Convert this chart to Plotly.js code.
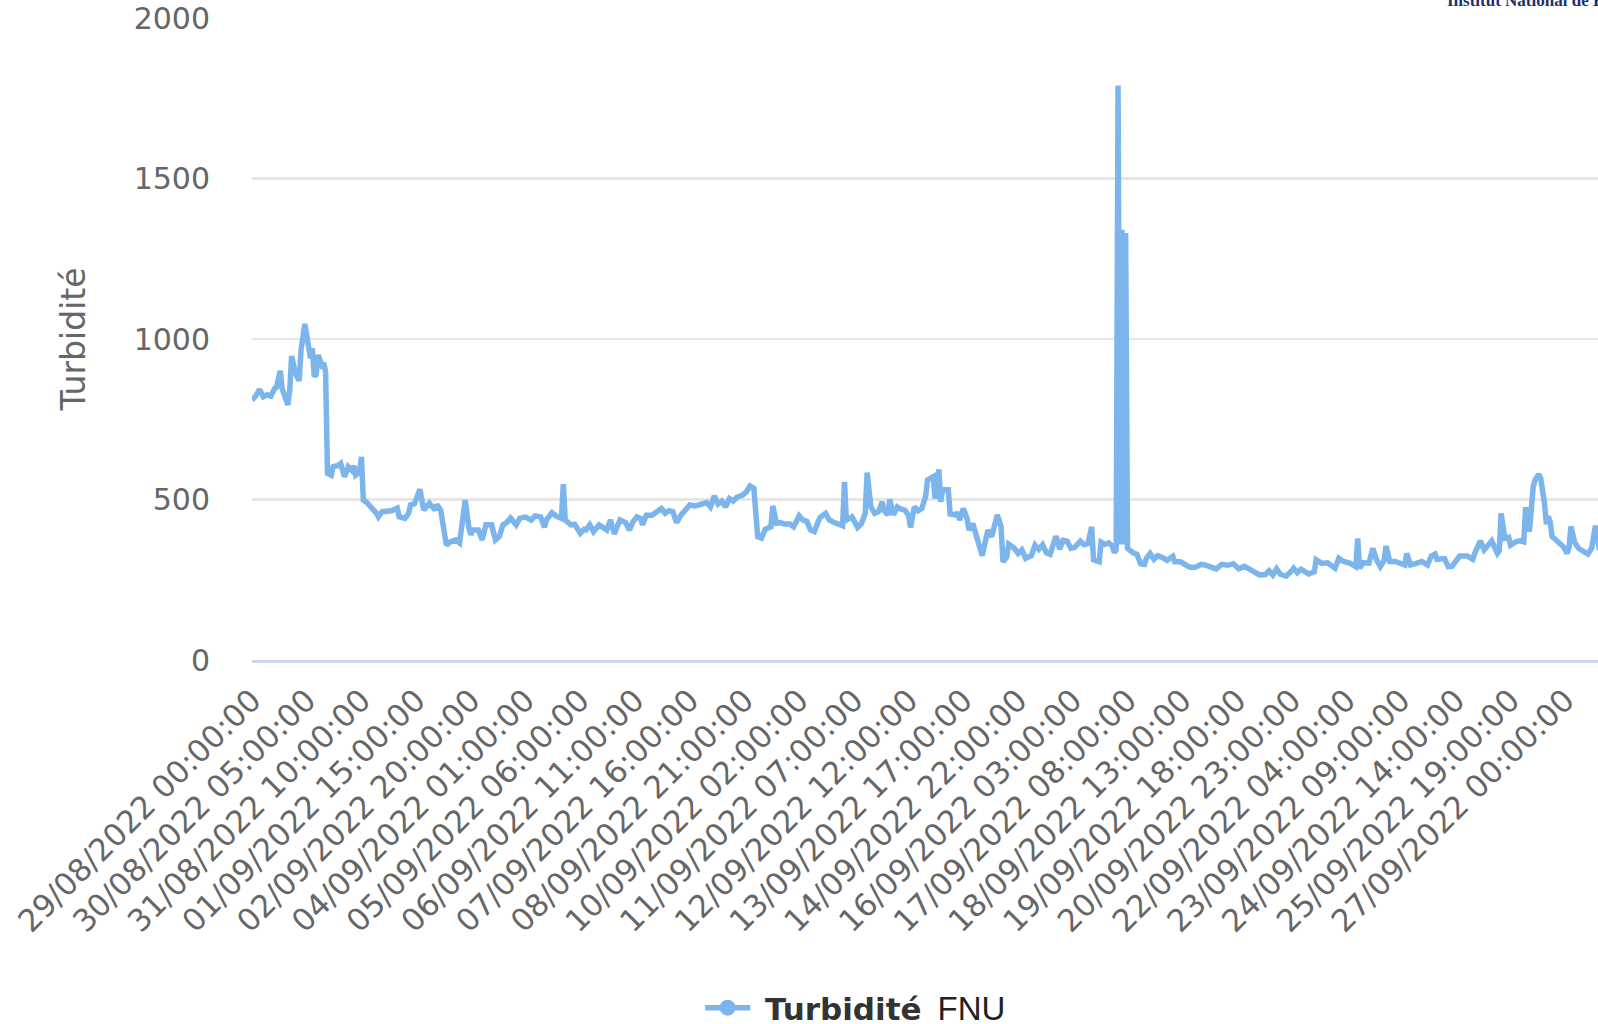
<!DOCTYPE html>
<html>
<head>
<meta charset="utf-8">
<script src="https://cdn.plot.ly/plotly-3.0.1.min.js"></script>
<style>
  html, body { margin: 0; padding: 0; background: #ffffff; overflow: hidden; width: 1598px; height: 1024px; }
  #chart { width: 1700px; height: 1060px; }
</style>
</head>
<body>
<div id="chart"></div>
<script>
// Hours elapsed since 29/08/2022 00:00:00
const hours = [
  0, 2, 4, 6, 8, 10, 12, 13, 15, 16, 19, 20, 21, 23, 25, 26, 28, 30, 31, 32,
  33, 34, 35, 37, 38, 39, 40, 42, 43, 46, 47, 49, 51, 53, 54, 55, 57, 58, 59, 61,
  63, 64, 66, 67, 69, 71, 74, 77, 78, 81, 83, 84, 86, 87, 89, 91, 94, 97, 98, 100,
  103, 105, 108, 110, 111, 113, 115, 116, 117, 120, 122, 124, 127, 129, 131, 133, 135, 137, 140, 142,
  145, 148, 150, 153, 155, 156, 159, 161, 164, 165, 166, 169, 171, 174, 176, 177, 179, 181, 184, 186,
  188, 190, 192, 195, 198, 200, 202, 204, 206, 207, 209, 212, 214, 217, 219, 221, 223, 225, 227, 230,
  232, 235, 237, 239, 241, 243, 245, 247, 249, 251, 253, 255, 257, 260, 262, 264, 266, 268, 270, 272,
  275, 276, 278, 280, 282, 285, 287, 290, 292, 294, 296, 298, 301, 304, 306, 308, 311, 313, 314, 315,
  318, 320, 321, 323, 325, 326, 328, 330, 332, 334, 335, 337, 338, 340, 342, 344, 346, 348, 349, 351,
  353, 355, 357, 358, 360, 361, 362, 364, 365, 366, 369, 370, 373, 374, 375, 377, 379, 380, 382, 384,
  386, 387, 390, 392, 395, 397, 398, 400, 401, 404, 406, 408, 410, 413, 415, 417, 419, 421, 423, 426,
  427, 428, 430, 432, 434, 436, 439, 441, 443, 445, 446, 449, 450, 452, 454, 456, 457, 458, 459, 460,
  461, 462, 463, 464, 467, 469, 471, 473, 474, 476, 478, 480, 483, 485, 488, 489, 492, 495, 497, 500,
  503, 505, 508, 511, 514, 517, 520, 523, 526, 529, 532, 534, 537, 539, 541, 543, 545, 548, 551, 552,
  554, 556, 560, 563, 564, 567, 570, 574, 576, 578, 582, 585, 586, 587, 589, 592, 594, 596, 598, 600,
  601, 603, 606, 609, 611, 612, 614, 617, 620, 623, 625, 627, 628, 632, 634, 636, 638, 640, 644, 647,
  648, 651, 653, 654, 657, 660, 661, 662, 664, 666, 667, 670, 672, 674, 675, 676, 677, 679, 680, 682,
  683, 685, 686, 687, 688, 689, 692, 695, 697, 698, 699, 701, 703, 706, 708, 710, 712, 714, 716
];

// Turbidity readings (FNU)
const turbidity = [
  810, 822, 843, 820, 826, 822, 846, 850, 901, 845, 795, 840, 947, 893, 870, 966, 1047, 976, 940, 971,
  883, 890, 950, 919, 925, 898, 582, 576, 602, 607, 612, 571, 602, 590, 605, 576, 585, 633, 498, 490,
  473, 470, 457, 446, 462, 462, 465, 473, 446, 441, 457, 483, 486, 500, 532, 467, 488, 467, 484, 467,
  358, 368, 374, 365, 410, 498, 410, 390, 405, 405, 374, 421, 421, 374, 384, 421, 428, 442, 421, 442,
  445, 436, 449, 446, 413, 436, 459, 449, 441, 548, 436, 421, 423, 395, 407, 405, 421, 400, 421, 415,
  405, 436, 393, 436, 428, 405, 431, 446, 441, 421, 451, 451, 459, 472, 457, 465, 462, 428, 449, 472,
  483, 480, 483, 486, 490, 477, 511, 486, 495, 477, 503, 495, 507, 514, 524, 542, 535, 384, 380, 407,
  415, 480, 426, 428, 424, 424, 415, 449, 436, 432, 405, 400, 444, 457, 436, 430, 421, 418, 555, 436,
  446, 425, 413, 425, 457, 584, 477, 457, 462, 493, 465, 452, 500, 452, 477, 470, 467, 450, 413, 477,
  465, 472, 509, 561, 571, 571, 503, 594, 493, 530, 530, 455, 452, 460, 436, 472, 440, 405, 425, 389,
  353, 325, 405, 384, 452, 415, 306, 322, 361, 348, 332, 343, 317, 325, 358, 345, 359, 334, 329, 385,
  373, 345, 373, 370, 348, 351, 370, 359, 362, 415, 312, 306, 367, 360, 365, 355, 334, 345, 1790, 360,
  1340, 360, 1330, 348, 334, 329, 300, 298, 317, 332, 314, 325, 318, 310, 323, 306, 306, 298, 289, 289,
  298, 296, 292, 284, 298, 295, 300, 284, 292, 281, 269, 265, 266, 278, 265, 284, 267, 261, 278, 286,
  272, 283, 268, 275, 312, 301, 303, 286, 317, 308, 301, 291, 379, 286, 303, 302, 348, 312, 291, 310,
  355, 307, 307, 301, 296, 332, 296, 301, 307, 296, 324, 330, 314, 316, 291, 292, 312, 324, 324, 314,
  332, 371, 343, 350, 371, 332, 340, 457, 379, 382, 358, 369, 371, 368, 476, 426, 400, 540, 561, 579,
  566, 488, 423, 447, 430, 385, 366, 353, 332, 350, 416, 366, 348, 334, 330, 348, 418, 348, 345
];

// Category labels shown along the time axis, one every 29 hours
const tickLabels = [
  '29/08/2022 00:00:00', '30/08/2022 05:00:00', '31/08/2022 10:00:00', '01/09/2022 15:00:00',
  '02/09/2022 20:00:00', '04/09/2022 01:00:00', '05/09/2022 06:00:00', '06/09/2022 11:00:00',
  '07/09/2022 16:00:00', '08/09/2022 21:00:00', '10/09/2022 02:00:00', '11/09/2022 07:00:00',
  '12/09/2022 12:00:00', '13/09/2022 17:00:00', '14/09/2022 22:00:00', '16/09/2022 03:00:00',
  '17/09/2022 08:00:00', '18/09/2022 13:00:00', '19/09/2022 18:00:00', '20/09/2022 23:00:00',
  '22/09/2022 04:00:00', '23/09/2022 09:00:00', '24/09/2022 14:00:00', '25/09/2022 19:00:00',
  '27/09/2022 00:00:00'
];
const tickStep = 29;
const tickHours = tickLabels.map((_, i) => i * tickStep);

const yTicks = [0, 500, 1000, 1500, 2000];

const lineColor = '#7cb5ec';
const baseFont = 'DejaVu Sans, Verdana, sans-serif';

const traces = [
  {
    x: hours,
    y: turbidity,
    type: 'scatter',
    mode: 'lines',
    line: { color: lineColor, width: 5.5 },
    showlegend: false,
    hoverinfo: 'skip'
  },
  {
    // legend entry: line with a round marker
    x: [null],
    y: [null],
    type: 'scatter',
    mode: 'lines+markers',
    line: { color: lineColor, width: 5.5 },
    marker: { color: lineColor, size: 18, symbol: 'circle' },
    name: '\u00A0<b>Turbidité</b>\u2009 <span style="font-family:Liberation Sans, Arial, sans-serif;font-size:33px;color:#222222">FNU</span>',
    showlegend: true,
    hoverinfo: 'skip'
  }
];

const plotLeft = 252;
const plotTop = 18;
const plotBottom = 660;
const pxPerHour = 1.8865;
const xMax = 716;
const plotWidth = xMax * pxPerHour;
const totalWidth = 1700;
const totalHeight = 1060;
const plotHeight = plotBottom - plotTop;

function px2paperX(px) { return (px - plotLeft) / plotWidth; }
function px2paperY(py) { return (plotBottom - py) / plotHeight; }

const layout = {
  width: totalWidth,
  height: totalHeight,
  margin: {
    l: plotLeft, r: totalWidth - plotLeft - plotWidth,
    t: plotTop, b: totalHeight - plotBottom,
    pad: 0, autoexpand: false
  },
  paper_bgcolor: '#ffffff',
  plot_bgcolor: '#ffffff',
  font: { family: baseFont, color: '#666666' },
  showlegend: true,
  hovermode: false,
  xaxis: {
    range: [0, xMax],
    tickmode: 'array',
    tickvals: tickHours,
    ticktext: tickLabels,
    tickangle: -45,
    tickfont: { family: baseFont, size: 31, color: '#666666' },
    ticks: 'outside',
    ticklen: 7,
    tickcolor: 'rgba(0,0,0,0)',
    showgrid: false,
    zeroline: false,
    showline: true,
    linecolor: '#ccd6eb',
    linewidth: 2.6,
    automargin: false,
    fixedrange: true
  },
  yaxis: {
    range: [0, 2000],
    tickmode: 'array',
    tickvals: yTicks,
    ticktext: yTicks.map(String),
    tickfont: { family: baseFont, size: 30, color: '#666666' },
    ticks: 'outside',
    ticklen: 35,
    tickcolor: 'rgba(0,0,0,0)',
    showgrid: true,
    gridcolor: '#e6e6e6',
    gridwidth: 2.6,
    zeroline: false,
    showline: false,
    automargin: false,
    fixedrange: true,
    title: {
      text: 'Turbidité',
      font: { family: baseFont, size: 33, color: '#666666' },
      standoff: 38
    }
  },
  legend: {
    orientation: 'h',
    x: px2paperX(700),
    xanchor: 'left',
    y: px2paperY(1008),
    yanchor: 'middle',
    itemwidth: 45,
    bgcolor: 'rgba(0,0,0,0)',
    font: { family: baseFont, size: 31, color: '#333333' },
    itemclick: false,
    itemdoubleclick: false
  },
  shapes: [
    {
      // white backing of the institute logo in the top-right corner
      type: 'rect',
      xref: 'paper', yref: 'paper',
      x0: px2paperX(1422), x1: px2paperX(1700),
      y0: px2paperY(26), y1: px2paperY(-20),
      fillcolor: '#ffffff',
      line: { width: 0 },
      layer: 'above'
    }
  ],
  annotations: [
    {
      text: '<b>Institut National de Recherche</b>',
      xref: 'paper', yref: 'paper',
      x: px2paperX(1445), xanchor: 'left',
      y: px2paperY(0), yanchor: 'middle',
      showarrow: false,
      font: { family: 'Liberation Serif, Times New Roman, serif', size: 17, color: '#1d2f6f' }
    }
  ]
};

Plotly.newPlot('chart', traces, layout, { displayModeBar: false, staticPlot: true });
</script>
</body>
</html>
